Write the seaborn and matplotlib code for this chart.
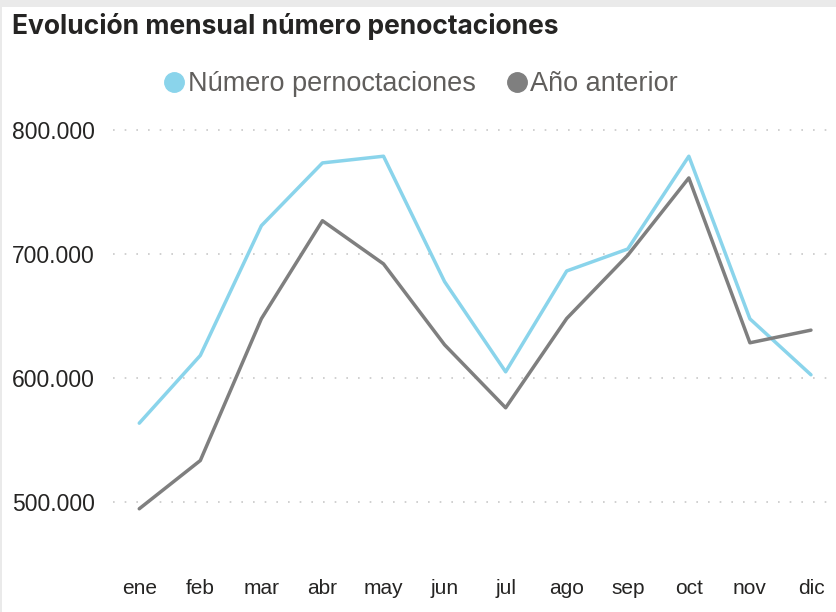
"""
Evolucion mensual numero pernoctaciones.

"""
import numpy as np
import pandas as pd
import matplotlib.pyplot as plt
import seaborn as sns
from matplotlib.lines import Line2D
from matplotlib.patches import Rectangle

MONTHS = ['ene', 'feb', 'mar', 'abr', 'may', 'jun',
    'jul', 'ago', 'sep', 'oct', 'nov', 'dic']

PERNOCTACIONES = [563600, 618200, 722800, 773400, 778800, 677700,
    605000, 686300, 704000, 778800, 647700, 602600]

ANIO_ANTERIOR = [494600, 533500, 647800, 726800, 692000, 626800,
    576000, 648000, 699000, 761300, 628400, 638600]

SERIES = ['Número pernoctaciones', 'Año anterior']
COLORS = ['#8AD4EB', '#7F7F7F']
Y_TICKS = [500000, 600000, 700000, 800000]


def fmt_thousands(value):
    return '{:,.0f}'.format(value).replace(',', '.')


if __name__ == '__main__':

    sns.set_theme(style='white')
    plt.rcParams['font.family'] = ['Liberation Sans', 'DejaVu Sans']

    data = pd.DataFrame({
        'Mes': MONTHS * 2,
        'Valor': PERNOCTACIONES + ANIO_ANTERIOR,
        'Serie': [SERIES[0]] * 12 + [SERIES[1]] * 12,
    })

    fig = plt.figure(figsize=(8.36, 6.12), dpi=100)
    ax = fig.add_axes([113 / 836, 1 - 560 / 612, 723 / 836, 440 / 612])

    sns.lineplot(data=data, x='Mes', y='Valor', hue='Serie', palette=COLORS,
        sort=False, linewidth=2.5, ax=ax, legend=False)

    ax.set_xlim(-0.43, 11.41)
    ax.set_ylim(453300, 808000)
    ax.set_yticks(Y_TICKS)
    ax.set_yticklabels([fmt_thousands(v) for v in Y_TICKS])
    ax.set_xticks(range(len(MONTHS)))
    ax.set_xticklabels(MONTHS)
    ax.set(xlabel=None, ylabel=None)

    for tick in Y_TICKS:
        ax.axhline(tick, color='#C8C8C8', linewidth=1.2,
            linestyle=(0, (1, 6)), zorder=0)

    ax.tick_params(axis='y', labelsize=16.5, labelcolor='#252423', pad=13, length=0)
    ax.tick_params(axis='x', labelsize=15, labelcolor='#252423', pad=14, length=0)
    sns.despine(ax=ax, left=True, bottom=True)

    fig.text(12 / 836, 1 - 27 / 612, 'Evolución mensual número penoctaciones',
        fontsize=19, fontweight='bold', color='#252423', family='Inter',
        va='center', ha='left')

    handles = [
        Line2D([], [], marker='o', linestyle='', markersize=14,
            markerfacecolor=COLORS[0], markeredgecolor=COLORS[0]),
        Line2D([], [], marker='o', linestyle='', markersize=14,
            markerfacecolor=COLORS[1], markeredgecolor=COLORS[1]),
    ]
    leg = fig.legend(handles, SERIES, loc='center', bbox_to_anchor=(0.5, 1 - 84 / 612),
        ncol=2, frameon=False, fontsize=19.5, handletextpad=-0.1,
        columnspacing=0.9, handlelength=1.2)
    for text in leg.get_texts():
        text.set_color('#605E5C')

    fig.patches.append(Rectangle((0, 1 - 7 / 612), 1, 7 / 612, transform=fig.transFigure,
        facecolor='#EAEAEA', edgecolor='none'))
    fig.patches.append(Rectangle((0, 0), 2 / 836, 1, transform=fig.transFigure,
        facecolor='#EAEAEA', edgecolor='none'))

    fig.savefig('out.png', dpi=100)
